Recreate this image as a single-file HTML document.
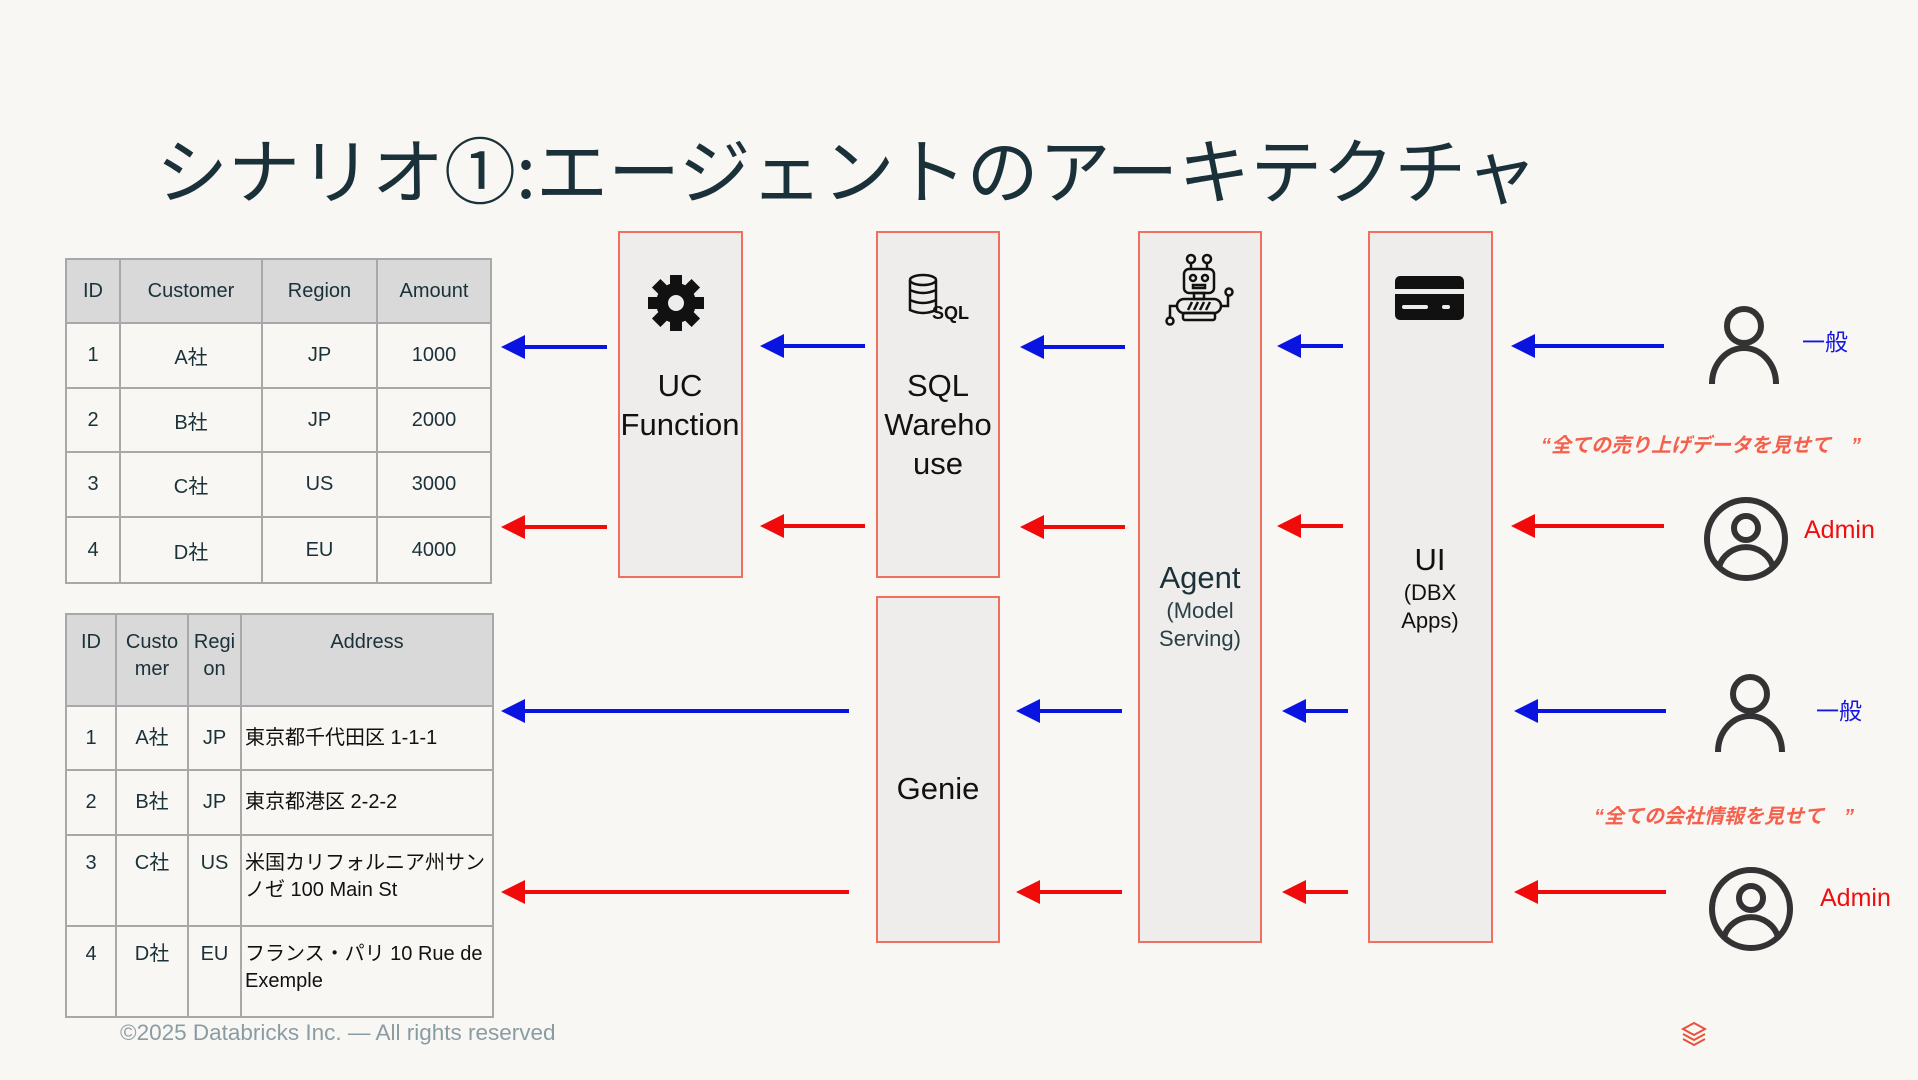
<!DOCTYPE html>
<html><head><meta charset="utf-8">
<style>
*{margin:0;padding:0;box-sizing:border-box}
body{width:1918px;height:1080px;background:#f9f7f4;position:relative;overflow:hidden;font-family:"Liberation Sans","Noto Sans CJK JP",sans-serif;color:#1b3139}
.a{position:absolute}
.title{left:156px;top:122px;font-size:72px;line-height:90px;color:#1b3139;white-space:nowrap;font-family:"Noto Sans CJK JP",sans-serif;letter-spacing:0px}
table{position:absolute;border-collapse:collapse;table-layout:fixed;font-size:20px}
td{border:2px solid #a8a8a8;text-align:center;vertical-align:middle;color:#1b3139;padding:0}
tr.h td{background:#d9d9d9}
#t2 td{vertical-align:top;padding-top:14px;line-height:27px}
#t2 td.l{text-align:left;padding-left:3px;color:#111}
.box{position:absolute;background:#eeedeb;border:2px solid #f07060}
.lbl{position:absolute;text-align:center;font-size:31px;line-height:39px;color:#111}
.sub{display:block;font-size:22px;line-height:28px;color:#2a3f46}
.q{position:absolute;font-size:20px;font-weight:bold;font-style:italic;color:#f5604c;white-space:nowrap}
</style></head><body>
<div class="a title">シナリオ①:エージェントのアーキテクチャ</div>

<table id="t1" style="left:65px;top:258px;width:425px">
<colgroup><col style="width:54px"><col style="width:142px"><col style="width:115px"><col style="width:114px"></colgroup>
<tr class="h" style="height:64px"><td>ID</td><td>Customer</td><td>Region</td><td>Amount</td></tr>
<tr style="height:65px"><td>1</td><td>A社</td><td>JP</td><td>1000</td></tr>
<tr style="height:64px"><td>2</td><td>B社</td><td>JP</td><td>2000</td></tr>
<tr style="height:65px"><td>3</td><td>C社</td><td>US</td><td>3000</td></tr>
<tr style="height:66px"><td>4</td><td>D社</td><td>EU</td><td>4000</td></tr>
</table>

<table id="t2" style="left:65px;top:613px;width:427px">
<colgroup><col style="width:50px"><col style="width:72px"><col style="width:53px"><col style="width:252px"></colgroup>
<tr class="h" style="height:92px"><td>ID</td><td>Custo<br>mer</td><td>Regi<br>on</td><td>Address</td></tr>
<tr style="height:64px"><td style="padding-top:18px">1</td><td style="padding-top:18px">A社</td><td style="padding-top:18px">JP</td><td class="l" style="padding-top:18px">東京都千代田区 1-1-1</td></tr>
<tr style="height:65px"><td style="padding-top:18px">2</td><td style="padding-top:18px">B社</td><td style="padding-top:18px">JP</td><td class="l" style="padding-top:18px">東京都港区 2-2-2</td></tr>
<tr style="height:91px"><td>3</td><td>C社</td><td>US</td><td class="l">米国カリフォルニア州サン<br>ノゼ 100 Main St</td></tr>
<tr style="height:91px"><td>4</td><td>D社</td><td>EU</td><td class="l">フランス・パリ 10 Rue de<br>Exemple</td></tr>
</table>

<div class="box" style="left:618px;top:231px;width:125px;height:347px"></div>
<div class="box" style="left:876px;top:231px;width:124px;height:347px"></div>
<div class="box" style="left:876px;top:596px;width:124px;height:347px"></div>
<div class="box" style="left:1138px;top:231px;width:124px;height:712px"></div>
<div class="box" style="left:1368px;top:231px;width:125px;height:712px"></div>

<div class="lbl" style="left:610px;width:140px;top:366px">UC<br>Function</div>
<div class="lbl" style="left:868px;width:140px;top:366px">SQL<br>Wareho<br>use</div>
<div class="lbl" style="left:868px;width:140px;top:769px">Genie</div>
<div class="lbl" style="left:1130px;width:140px;top:558px;color:#1b3139">Agent<span class="sub">(Model<br>Serving)</span></div>
<div class="lbl" style="left:1360px;width:140px;top:540px">UI<span class="sub" style="color:#111">(DBX<br>Apps)</span></div>

<svg class="a" style="left:0;top:0" width="1918" height="1080" viewBox="0 0 1918 1080">
<defs>
<marker id="hb" markerWidth="6" markerHeight="6" refX="1" refY="3" orient="auto" markerUnits="strokeWidth"><path d="M0,3 L6,0 L6,6 Z" fill="#0a14e0"/></marker>
<marker id="hr" markerWidth="6" markerHeight="6" refX="1" refY="3" orient="auto" markerUnits="strokeWidth"><path d="M0,3 L6,0 L6,6 Z" fill="#f00a0a"/></marker>
</defs>
<g stroke-width="4" fill="none">
<g stroke="#0a14e0" marker-start="url(#hb)">
<line x1="505" y1="347" x2="607" y2="347"/><line x1="764" y1="346" x2="865" y2="346"/><line x1="1024" y1="347" x2="1125" y2="347"/><line x1="1281" y1="346" x2="1343" y2="346"/><line x1="1515" y1="346" x2="1664" y2="346"/>
<line x1="505" y1="711" x2="849" y2="711"/><line x1="1020" y1="711" x2="1122" y2="711"/><line x1="1286" y1="711" x2="1348" y2="711"/><line x1="1518" y1="711" x2="1666" y2="711"/>
</g>
<g stroke="#f00a0a" marker-start="url(#hr)">
<line x1="505" y1="527" x2="607" y2="527"/><line x1="764" y1="526" x2="865" y2="526"/><line x1="1024" y1="527" x2="1125" y2="527"/><line x1="1281" y1="526" x2="1343" y2="526"/><line x1="1515" y1="526" x2="1664" y2="526"/>
<line x1="505" y1="892" x2="849" y2="892"/><line x1="1020" y1="892" x2="1122" y2="892"/><line x1="1286" y1="892" x2="1348" y2="892"/><line x1="1518" y1="892" x2="1666" y2="892"/>
</g>
</g>
<g transform="translate(676,303)" fill="#111">
<rect x="-6" y="-28" width="12" height="56"/><rect x="-6" y="-28" width="12" height="56" transform="rotate(45)"/><rect x="-6" y="-28" width="12" height="56" transform="rotate(90)"/><rect x="-6" y="-28" width="12" height="56" transform="rotate(135)"/>
<circle r="20"/><circle r="8" fill="#eeedeb"/>
</g>
<g transform="translate(908,274)" fill="none" stroke="#111" stroke-width="2.5">
<ellipse cx="15" cy="6" rx="13" ry="5"/><path d="M2,6 V36 Q15,42 28,36 V6 M2,16 Q15,22 28,16 M2,26 Q15,32 28,26"/>
<text x="24" y="45" font-family="Liberation Sans" font-size="18" font-weight="bold" fill="#111" stroke="none">SQL</text>
</g>
<g transform="translate(1162,253)" fill="none" stroke="#111" stroke-width="2.5">
<circle cx="29" cy="6" r="4"/><circle cx="45" cy="6" r="4"/><path d="M29,10 V16 M45,10 V16"/>
<rect x="22" y="16" width="30" height="24" rx="5"/><circle cx="31" cy="25" r="3"/><circle cx="43" cy="25" r="3"/><rect x="31" y="32" width="12" height="3"/>
<rect x="32" y="40" width="10" height="6"/><rect x="15" y="46" width="44" height="14" rx="7"/>
<path d="M26,57 L30,49 M32,57 L36,49 M38,57 L42,49 M44,57 L48,49"/>
<rect x="21" y="60" width="32" height="7" rx="2"/>
<path d="M15,53 H8 V65"/><circle cx="8" cy="68" r="3.5"/><path d="M59,53 H66 V43"/><circle cx="67" cy="39" r="3.5"/>
</g>
<g transform="translate(1395,276)">
<rect x="0" y="0" width="69" height="44" rx="5" fill="#111"/>
<rect x="0" y="13" width="69" height="5" fill="#eeedeb"/>
<rect x="7" y="29" width="26" height="4" rx="2" fill="#eeedeb"/><rect x="47" y="29" width="8" height="4" rx="2" fill="#eeedeb"/>
</g>
<g fill="none" stroke="#333" stroke-width="6">
<circle cx="1744" cy="326" r="17"/><path d="M1712,384 A32,36 0 0 1 1776,384"/>
<circle cx="1750" cy="694" r="17"/><path d="M1718,752 A32,36 0 0 1 1782,752"/>
<circle cx="1746" cy="539" r="39"/><circle cx="1746" cy="528" r="12"/><path d="M1719,567 A28,27 0 0 1 1773,567"/>
<circle cx="1751" cy="909" r="39"/><circle cx="1751" cy="898" r="12"/><path d="M1724,937 A28,27 0 0 1 1778,937"/>
</g>
<g transform="translate(1694,1034)" fill="none" stroke="#e8523a" stroke-width="2">
<path d="M-11,-5 L0,-11 L11,-5 L0,1 Z M-11,0 L0,6 L11,0 M-11,5 L0,11 L11,5"/>
</g>
</svg>

<div class="a" style="left:1802px;top:323px;font-size:23px;color:#1515e0">一般</div>
<div class="a" style="left:1816px;top:692px;font-size:23px;color:#1515e0">一般</div>
<div class="a" style="left:1804px;top:516px;font-size:25px;color:#ee1010">Admin</div>
<div class="a" style="left:1820px;top:884px;font-size:25px;color:#ee1010">Admin</div>
<div class="q" style="left:1541px;top:429px">“全ての売り上げデータを見せて　”</div>
<div class="q" style="left:1594px;top:800px">“全ての会社情報を見せて　”</div>

<div class="a" style="left:120px;top:1020px;font-size:22.5px;color:#8a9ca3">©2025 Databricks Inc. — All rights reserved</div>
</body></html>
